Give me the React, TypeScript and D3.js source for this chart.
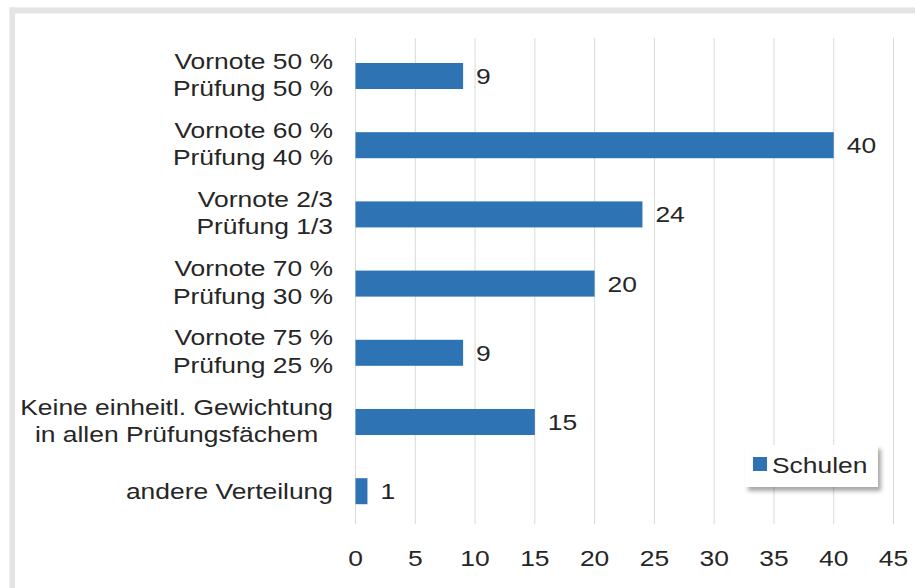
import * as d3 from "d3";
import { useEffect, useRef } from "react";

// categories (each line of the wrapped label), top to bottom
const categories = [
  ["Vornote 50 %", "Prüfung 50 %"],
  ["Vornote 60 %", "Prüfung 40 %"],
  ["Vornote 2/3", "Prüfung 1/3"],
  ["Vornote 70 %", "Prüfung 30 %"],
  ["Vornote 75 %", "Prüfung 25 %"],
  ["Keine einheitl. Gewichtung", "in allen Prüfungsfächem"],
  ["andere Verteilung"],
];
// labels whose second line is centered under the first
const centeredLabels = [5];
const schulen = [9, 40, 24, 20, 9, 15, 1];
const xTicks = [0, 5, 10, 15, 20, 25, 30, 35, 40, 45];
const seriesName = "Schulen";

const W = 915;
const H = 588;
const BLUE = "#2e74b5";
const TEXT = "#262626";
const FONT = "'Liberation Sans', Arial, sans-serif";
const FS = 22.4;
const STRETCH = 1.18;

const App = () => {
  const ref = useRef<SVGSVGElement | null>(null);

  useEffect(() => {
    const svg = d3.select(ref.current);
    svg.selectAll("*").remove();

    const defs = svg.append("defs");
    const f = defs.append("filter").attr("id", "shadow")
      .attr("x", "-20%").attr("y", "-20%").attr("width", "140%").attr("height", "160%");
    f.append("feDropShadow").attr("dx", 3).attr("dy", 4)
      .attr("stdDeviation", 2).attr("flood-color", "#000").attr("flood-opacity", 0.35);

    svg.append("rect").attr("width", W).attr("height", H).attr("fill", "#fff");
    // outer frame (top and left edges only visible)
    svg.append("rect").attr("x", 9.5).attr("y", 7.5).attr("width", W).attr("height", 6).attr("fill", "#e4e4e4");
    svg.append("rect").attr("x", 9.5).attr("y", 7.5).attr("width", 5.5).attr("height", H).attr("fill", "#e4e4e4");

    const x = d3.scaleLinear().domain([0, 45]).range([355.5, 893.5]);
    const y = d3.scaleBand<number>()
      .domain(d3.range(categories.length))
      .range([41.4, 525.8])
      .paddingInner(0.624)
      .paddingOuter(0.312);

    const stretched = (g: any, tx: number, ty: number, txt: string, anchor: string) =>
      g.append("g")
        .attr("transform", "translate(" + tx + "," + ty + ") scale(" + STRETCH + ",1)")
        .append("text")
        .attr("text-anchor", anchor)
        .attr("font-family", FONT)
        .attr("font-size", FS)
        .attr("fill", TEXT)
        .text(txt);

    // gridlines
    svg.append("g").selectAll("line").data(xTicks).enter().append("line")
      .attr("x1", (d) => x(d) ).attr("x2", (d) => x(d))
      .attr("y1", 38).attr("y2", 524)
      .attr("stroke", "#d9d9d9").attr("stroke-width", 1);

    // x tick labels
    const ticks = svg.append("g");
    xTicks.forEach((t) => stretched(ticks, x(t), 566, String(t), "middle"));

    // bars
    svg.append("g").selectAll("rect").data(schulen).enter().append("rect")
      .attr("x", x(0))
      .attr("y", (_d, i) => y(i)!)
      .attr("width", (d) => x(d) - x(0))
      .attr("height", y.bandwidth())
      .attr("fill", BLUE);

    // value labels
    const vals = svg.append("g");
    schulen.forEach((v, i) => {
      const cy = y(i)! + y.bandwidth() / 2;
      stretched(vals, x(v) + 13, cy + 8, String(v), "start");
    });

    // category labels
    const cats = svg.append("g");
    const right = 333;
    categories.forEach((lines, i) => {
      const cy = y(i)! + y.bandwidth() / 2;
      if (lines.length === 1) {
        stretched(cats, right, cy + 8, lines[0], "end");
        return;
      }
      const first = stretched(cats, right, cy - 7.5, lines[0], "end");
      if (centeredLabels.includes(i)) {
        const w = (first.node() as SVGTextElement).getComputedTextLength() * STRETCH;
        stretched(cats, right - w / 2, cy + 20, lines[1], "middle");
      } else {
        stretched(cats, right, cy + 20, lines[1], "end");
      }
    });

    // legend
    const lg = svg.append("g");
    lg.append("rect").attr("x", 745).attr("y", 445).attr("width", 133).attr("height", 42)
      .attr("fill", "#fff").attr("filter", "url(#shadow)");
    lg.append("rect").attr("x", 753).attr("y", 457).attr("width", 14).attr("height", 14).attr("fill", BLUE);
    stretched(lg, 772, 473, seriesName, "start");
  }, []);

  return (
    <svg ref={ref} width={W} height={H}
      style={{ position: "absolute", left: 0, top: 0, display: "block" }} />
  );
};

export default App;
